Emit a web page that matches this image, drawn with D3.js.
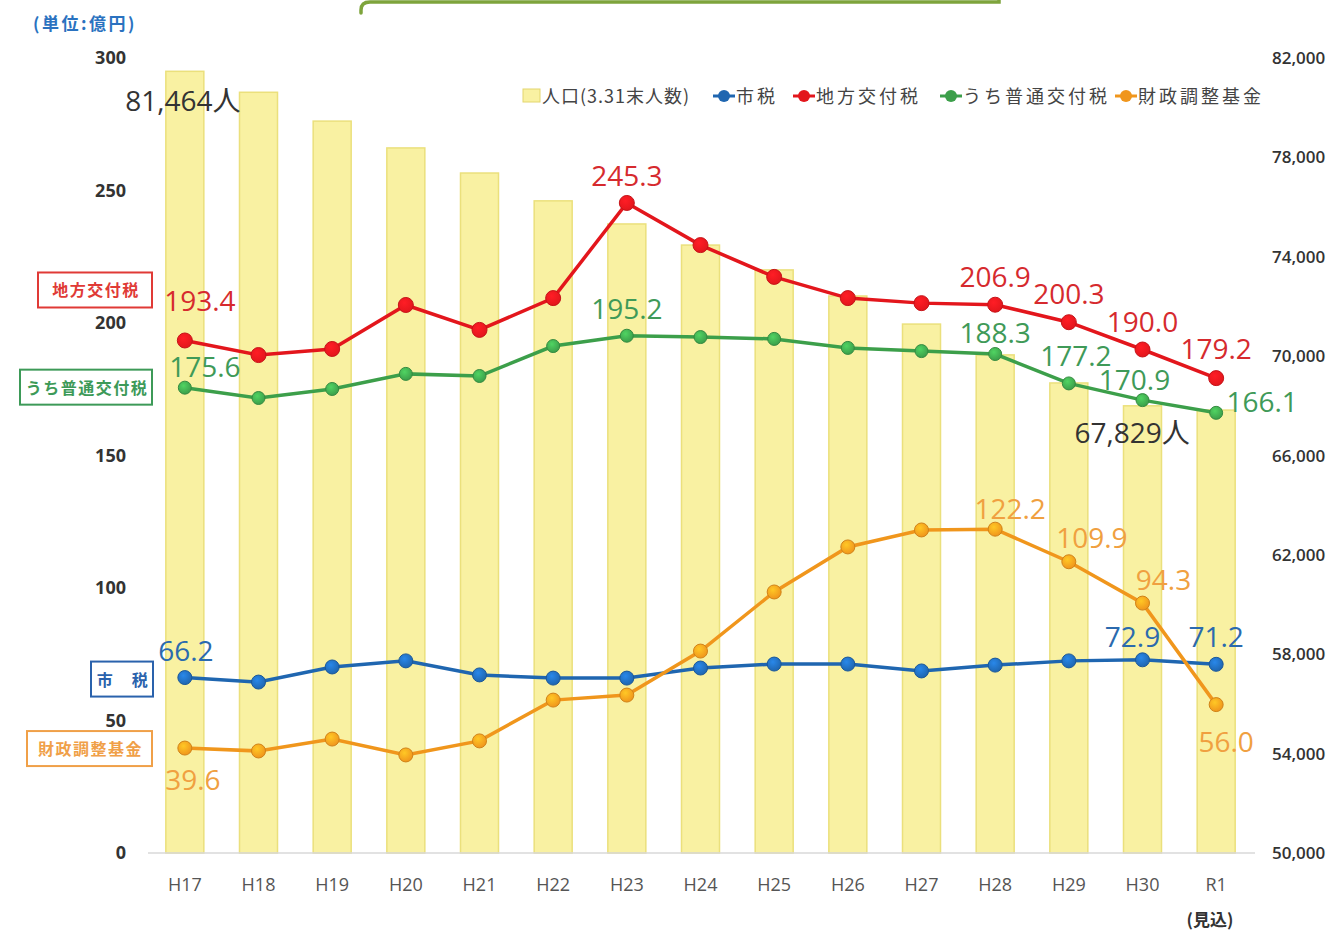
<!DOCTYPE html>
<html>
<head>
<meta charset="utf-8">
<script src="https://cdn.jsdelivr.net/npm/d3@7"></script>
<style>
  body { margin: 0; background: #fff; }
  text { font-family: "Open Sans", "Noto Sans CJK JP", sans-serif; }
  .jp { font-family: "Noto Sans CJK JP", sans-serif; }
</style>
</head>
<body>
<div id="chart"></div>
<script>
// data
const years = ["H17","H18","H19","H20","H21","H22","H23","H24","H25","H26","H27","H28","H29","H30","R1"];
const population = [81464, 80620, 79460, 78380, 77370, 76250, 75320, 74470, 73470, 72420, 71290, 70050, 68920, 68000, 67829];
const chihoKofuzei = [193.4, 187.9, 190.2, 206.8, 197.4, 209.4, 245.3, 229.4, 217.4, 209.4, 207.5, 206.9, 200.3, 190.0, 179.2];
const futsuKofuzei = [175.6, 171.7, 175.1, 180.8, 180.0, 191.3, 195.2, 194.7, 194.0, 190.6, 189.4, 188.3, 177.2, 170.9, 166.1];
const shizei = [66.2, 64.5, 70.2, 72.5, 67.2, 66.0, 66.0, 69.8, 71.3, 71.3, 68.7, 70.9, 72.5, 72.9, 71.2];
const kikin = [39.6, 38.5, 43.0, 37.0, 42.3, 57.7, 59.6, 76.2, 98.5, 115.5, 121.9, 122.2, 109.9, 94.3, 56.0];
const leftTicks = [0, 50, 100, 150, 200, 250, 300];
const rightTicks = [50000, 54000, 58000, 62000, 66000, 70000, 74000, 78000, 82000];

const width = 1331, height = 933;

const svg = d3.select("#chart")
  .append("svg")
    .attr("width", width)
    .attr("height", height);

const x = d3.scalePoint()
    .domain(years)
    .range([148, 1253])
    .padding(0.5);

const yL = d3.scaleLinear().domain([0, 300]).range([853, 58]);
const yR = d3.scaleLinear().domain([50000, 82000]).range([853, 58]);

// top frame remnant (bottom edge of a box above the chart)
svg.append("path")
  .attr("d", "M999,0 L999,2 L370,2 Q361,2 361,10 L361,13")
  .style("fill", "none").style("stroke", "#7ea43c").style("stroke-width", 3.5)
  .style("stroke-linecap", "round");

// bars (population, right axis)
svg.append("g")
  .selectAll("rect")
  .data(population)
  .join("rect")
    .attr("x", (d, i) => x(years[i]) - 19)
    .attr("y", d => yR(d))
    .attr("width", 38)
    .attr("height", d => yR(50000) - yR(d))
    .style("fill", "#f9f1a2")
    .style("stroke", "#ebe07c")
    .style("stroke-width", 1.5);

// baseline
svg.append("line")
  .attr("x1", 148).attr("x2", 1255)
  .attr("y1", yL(0)).attr("y2", yL(0))
  .style("stroke", "#d9d9d9").style("stroke-width", 1.5);

// left axis labels
svg.append("g")
  .selectAll("text")
  .data(leftTicks)
  .join("text")
    .attr("x", 126)
    .attr("y", d => yL(d) + 6)
    .attr("text-anchor", "end")
    .style("font-size", "18px")
    .style("font-weight", "bold")
    .style("fill", "#333")
    .text(d => d);

// right axis labels
svg.append("g")
  .selectAll("text")
  .data(rightTicks)
  .join("text")
    .attr("x", 1272)
    .attr("y", d => yR(d) + 6)
    .style("font-size", "17px")
    .style("font-weight", "600")
    .style("fill", "#333")
    .text(d => d3.format(",")(d));

// x labels
svg.append("g")
  .selectAll("text")
  .data(years)
  .join("text")
    .attr("x", d => x(d))
    .attr("y", 891)
    .attr("text-anchor", "middle")
    .style("font-size", "18px")
    .style("fill", "#555")
    .text(d => d);

svg.append("text")
  .attr("class", "jp")
  .attr("x", 1210).attr("y", 926)
  .attr("text-anchor", "middle")
  .style("font-size", "17px").style("font-weight", "bold").style("fill", "#333")
  .text("(見込)");

svg.append("text")
  .attr("class", "jp")
  .attr("x", 33).attr("y", 30)
  .style("font-size", "17px").style("font-weight", "bold").style("fill", "#2a72c0")
  .style("letter-spacing", "2.5px")
  .text("(単位:億円)");

// series
const series = [
  {name: "地方交付税", values: chihoKofuzei, color: "#e3161c", text: "#d62a2e", r: 7.5,
   labels: [[0, 15, -39], [6, 0, -27], [11, 0, -28], [12, 0, -28], [13, 0, -28], [14, 0, -29]]},
  {name: "うち普通交付税", values: futsuKofuzei, color: "#3c9f4a", text: "#3f9a58", r: 6.5,
   labels: [[0, 20, -21], [6, 0, -27], [11, 0, -21], [12, 7, -27], [13, -8, -20], [14, 46, -11]]},
  {name: "市税", values: shizei, color: "#1f66b0", text: "#2b6aae", r: 7,
   labels: [[0, 1, -27], [13, -10, -23], [14, 0, -27]]},
  {name: "財政調整基金", values: kikin, color: "#f0961c", text: "#f0a040", r: 7,
   labels: [[0, 8, 32], [11, 15, -20], [12, 23, -24], [13, 21, -23], [14, 10, 37]]}
];

// soft highlight for the dots
const defs = svg.append("defs");
series.forEach((s, k) => {
  const grad = defs.append("radialGradient")
    .attr("id", "dot" + k)
    .attr("cx", "40%").attr("cy", "35%").attr("r", "65%");
  grad.append("stop").attr("offset", "0%").attr("stop-color", d3.color(s.color).brighter(0.8));
  grad.append("stop").attr("offset", "100%").attr("stop-color", s.color);
});

const lineGen = d3.line()
  .x((d, i) => x(years[i]))
  .y(d => yL(d));

series.forEach((s, k) => {
  const g = svg.append("g");
  g.append("path")
    .datum(s.values)
    .attr("d", lineGen)
    .style("fill", "none")
    .style("stroke", s.color)
    .style("stroke-width", 3.5);
  g.selectAll("circle")
    .data(s.values)
    .join("circle")
      .attr("cx", (d, i) => x(years[i]))
      .attr("cy", d => yL(d))
      .attr("r", s.r)
      .style("fill", `url(#dot${k})`)
      .style("stroke", d3.color(s.color).darker(0.4))
      .style("stroke-width", 1);
  g.selectAll("text")
    .data(s.labels)
    .join("text")
      .attr("x", d => x(years[d[0]]) + d[1])
      .attr("y", d => yL(s.values[d[0]]) + d[2] + 10)
      .attr("text-anchor", "middle")
      .style("font-size", "28px")
      .style("fill", s.text)
      .text(d => s.values[d[0]].toFixed(1));
});

// population labels
const popLabels = [[0, -2, 30], [14, -84, 23]];
svg.append("g")
  .selectAll("text")
  .data(popLabels)
  .join("text")
    .attr("x", d => x(years[d[0]]) + d[1])
    .attr("y", d => yR(population[d[0]]) + d[2] + 10)
    .attr("text-anchor", "middle")
    .style("font-size", "28px")
    .style("fill", "#333")
    .text(d => d3.format(",")(population[d[0]]) + "人");

// boxed series tags on the left
const tags = [
  {text: "地方交付税", x: 38, w: 114, y: yL(chihoKofuzei[0]) - 68, color: "#e03a36"},
  {text: "うち普通交付税", x: 20, w: 132, y: yL(futsuKofuzei[0]) - 18, color: "#3d9a58"},
  {text: "市　税", x: 91, w: 62, y: yL(shizei[0]) - 16, color: "#2a62ac"},
  {text: "財政調整基金", x: 27, w: 125, y: yL(kikin[0]) - 17, color: "#f0a048"}
];
const tag = svg.append("g").selectAll("g").data(tags).join("g");
tag.append("rect")
  .attr("x", d => d.x).attr("y", d => d.y)
  .attr("width", d => d.w).attr("height", 35)
  .style("fill", "#fff").style("stroke", d => d.color).style("stroke-width", 2);
tag.append("text")
  .attr("class", "jp")
  .attr("x", d => d.x + d.w / 2 + 1).attr("y", d => d.y + 24)
  .attr("text-anchor", "middle")
  .style("font-size", "16px").style("font-weight", "bold")
  .style("letter-spacing", "1.5px")
  .style("fill", d => d.color)
  .text(d => d.text);

// legend
const legend = svg.append("g").attr("transform", "translate(523,96)");
legend.append("rect")
  .attr("x", 0).attr("y", -7).attr("width", 17).attr("height", 13)
  .style("fill", "#f9f1a2").style("stroke", "#e3d66e");
legend.append("text").attr("class", "jp")
  .attr("x", 19).attr("y", 7)
  .style("font-size", "18px").style("fill", "#444")
  .style("letter-spacing", "1px")
  .text("人口(3.31末人数)");
const legendItems = [
  {name: "市税", color: "#1f66b0", x: 190},
  {name: "地方交付税", color: "#e3161c", x: 270},
  {name: "うち普通交付税", color: "#3c9f4a", x: 417},
  {name: "財政調整基金", color: "#f0961c", x: 592}
];
const li = legend.selectAll(".li").data(legendItems).join("g")
  .attr("transform", d => `translate(${d.x},0)`);
li.append("line").attr("x1", 0).attr("x2", 22).attr("y1", 0).attr("y2", 0)
  .style("stroke", d => d.color).style("stroke-width", 3);
li.append("circle").attr("cx", 11).attr("cy", 0).attr("r", 6)
  .style("fill", d => d.color);
li.append("text").attr("class", "jp")
  .attr("x", 23).attr("y", 7)
  .style("font-size", "18px").style("fill", "#444")
  .style("letter-spacing", "3px")
  .text(d => d.name);
</script>
</body>
</html>
